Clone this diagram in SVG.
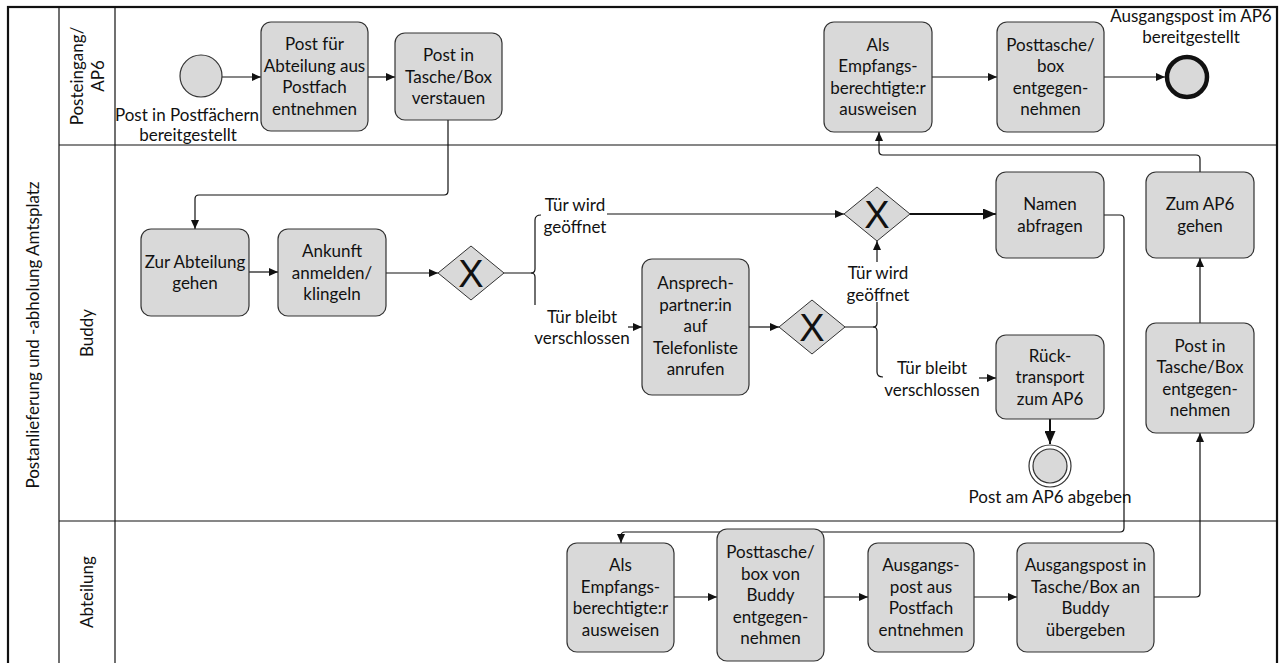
<svg xmlns="http://www.w3.org/2000/svg" width="1286" height="663" viewBox="0 0 1286 663">
<style>
text{font-family:Lato,"Liberation Sans",sans-serif;font-size:17px;fill:#111;text-anchor:middle}
.task{fill:#d9d9d9;stroke:#333;stroke-width:1.2}
.gw{fill:#d9d9d9;stroke:#333;stroke-width:1}
.x{font-size:38px;font-family:"Liberation Sans Narrow","Liberation Sans",sans-serif}
.c{fill:none;stroke:#111;stroke-width:1.2}
.ct{fill:none;stroke:#111;stroke-width:2}
.frame{fill:none;stroke:#111}
</style>
<defs>
<marker id="a" markerWidth="9" markerHeight="8" refX="9" refY="4" orient="auto" markerUnits="userSpaceOnUse"><path d="M0,0 L9,4 L0,8 Z" fill="#111"/></marker>
<marker id="ab" markerWidth="13" markerHeight="11" refX="13" refY="5.5" orient="auto" markerUnits="userSpaceOnUse"><path d="M0,0 L13,5.5 L0,11 Z" fill="#111"/></marker>
</defs>
<rect width="1286" height="663" fill="#fff"/>
<g id="pool">
<rect class="frame" x="8" y="7" width="1269" height="662" stroke-width="2.2"/>
<line class="frame" x1="59" y1="7" x2="59" y2="663" stroke-width="1.2"/>
<line class="frame" x1="115" y1="7" x2="115" y2="663" stroke-width="1.2"/>
<line class="frame" x1="59" y1="145" x2="1277" y2="145" stroke-width="1.2"/>
<line class="frame" x1="59" y1="521" x2="1277" y2="521" stroke-width="1.2"/>
<text transform="translate(39,335) rotate(-90)">Postanlieferung und -abholung Amtsplatz</text>
</g>
<g id="lane-posteingang"><text transform="translate(87,76) rotate(-90)"><tspan x="0" y="-4">Posteingang/</tspan><tspan x="0" y="17">AP6</tspan></text></g>
<g id="lane-buddy"><text transform="translate(93,333) rotate(-90)">Buddy</text></g>
<g id="lane-abteilung"><text transform="translate(93,592) rotate(-90)">Abteilung</text></g>

<g id="connectors">
<path class="c" d="M222,77 L261,77" marker-end="url(#a)"/>
<path class="c" d="M368,77 L395,77" marker-end="url(#a)"/>
<path class="c" d="M448,120 L448,191 Q448,195 444,195 L199,195 Q195,195 195,199 L195,229" marker-end="url(#a)"/>
<path class="c" d="M249,272 L278,272" marker-end="url(#a)"/>
<path class="c" d="M386,273 L438,273" marker-end="url(#a)"/>
<path class="c" d="M504,273 L531,273 Q535,273 535,269 L535,220 Q535,215 541,215"/>
<path class="c" d="M531,273 Q535,273 535,277 L535,305"/>
<path class="c" d="M607,214 L844,214" marker-end="url(#a)"/>
<path class="c" d="M628,327 L642,327" marker-end="url(#a)"/>
<path class="c" d="M749,327 L779,327" marker-end="url(#a)"/>
<path class="c" d="M845,327 L873,327 Q877,327 877,323 L877,302"/>
<path class="c" d="M877,262 L877,241" marker-end="url(#a)"/>
<path class="c" d="M873,327 Q877,327 877,331 L877,372 Q877,377 883,377"/>
<path class="c" d="M979,378 L996,378" marker-end="url(#a)"/>
<path class="ct" d="M910,214 L996,214" marker-end="url(#ab)"/>
<path class="ct" d="M1050,419 L1050,444" marker-end="url(#ab)"/>
<path class="c" d="M1104,215 L1120,215 Q1124,215 1124,219 L1124,528 Q1124,532 1120,532 L625,532 Q621,532 621,536 L621,543" marker-end="url(#a)"/>
<path class="c" d="M1200,172 L1200,159 Q1200,155 1196,155 L883,155 Q879,155 879,151 L879,132" marker-end="url(#a)"/>
<path class="c" d="M1200,323 L1200,258" marker-end="url(#a)"/>
<path class="c" d="M1154,597 L1196,597 Q1200,597 1200,593 L1200,433" marker-end="url(#a)"/>
<path class="c" d="M674,597 L717,597" marker-end="url(#a)"/>
<path class="c" d="M824,597 L868,597" marker-end="url(#a)"/>
<path class="c" d="M974,597 L1017,597" marker-end="url(#a)"/>
<path class="c" d="M932,77 L997,77" marker-end="url(#a)"/>
<path class="c" d="M1104,77 L1165,77" marker-end="url(#a)"/>
<text x="575" y="211">Tür wird</text><text x="575" y="233">geöffnet</text>
<text x="582" y="323">Tür bleibt</text><text x="582" y="344">verschlossen</text>
<text x="878" y="279">Tür wird</text><text x="878" y="301">geöffnet</text>
<text x="932" y="374">Tür bleibt</text><text x="932" y="396">verschlossen</text>
</g>

<g id="start">
<circle cx="201" cy="76" r="21" fill="#d9d9d9" stroke="#333" stroke-width="1.2"/>
<text x="187" y="121">Post in Postfächern</text><text x="188" y="141">bereitgestellt</text>
</g>
<g id="t-entnehmen"><rect class="task" x="261" y="22" width="107" height="109" rx="10"/>
<text x="314.5" y="50">Post für</text><text x="314.5" y="71.5">Abteilung aus</text><text x="314.5" y="93">Postfach</text><text x="314.5" y="114.5">entnehmen</text></g>
<g id="t-verstauen"><rect class="task" x="395" y="33" width="107" height="87" rx="10"/>
<text x="448.5" y="61">Post in</text><text x="448.5" y="82.5">Tasche/Box</text><text x="448.5" y="104">verstauen</text></g>
<g id="t-ausweisen-ap6"><rect class="task" x="824" y="22" width="108" height="110" rx="10"/>
<text x="878" y="50.5">Als</text><text x="878" y="72">Empfangs-</text><text x="878" y="93.5">berechtigte:r</text><text x="878" y="115">ausweisen</text></g>
<g id="t-entgegen-ap6"><rect class="task" x="997" y="22" width="107" height="110" rx="10"/>
<text x="1050.5" y="50.5">Posttasche/</text><text x="1050.5" y="72">box</text><text x="1050.5" y="93.5">entgegen-</text><text x="1050.5" y="115">nehmen</text></g>
<g id="end-ap6">
<circle cx="1187" cy="77" r="20" fill="#d9d9d9" stroke="#111" stroke-width="4.5"/>
<text x="1191" y="22">Ausgangspost im AP6</text><text x="1191" y="43">bereitgestellt</text>
</g>

<g id="t-zur-abteilung"><rect class="task" x="141" y="229" width="108" height="87" rx="10"/>
<text x="195" y="267.5">Zur Abteilung</text><text x="195" y="289">gehen</text></g>
<g id="t-ankunft"><rect class="task" x="278" y="229" width="108" height="87" rx="10"/>
<text x="332" y="257">Ankunft</text><text x="332" y="278.5">anmelden/</text><text x="332" y="300">klingeln</text></g>
<g id="gw1"><path class="gw" d="M438,273 L471,246 L504,273 L471,300 Z"/><text class="x" x="471" y="287">X</text></g>
<g id="t-ansprech"><rect class="task" x="642" y="259" width="107" height="136" rx="10"/>
<text x="695.5" y="289">Ansprech-</text><text x="695.5" y="310.5">partner:in</text><text x="695.5" y="332">auf</text><text x="695.5" y="353.5">Telefonliste</text><text x="695.5" y="375">anrufen</text></g>
<g id="gw3"><path class="gw" d="M779,327 L812,300 L845,327 L812,354 Z"/><text class="x" x="812" y="341">X</text></g>
<g id="gw2"><path class="gw" d="M844,214 L877,187 L910,214 L877,241 Z"/><text class="x" x="877" y="228">X</text></g>
<g id="t-namen"><rect class="task" x="996" y="172" width="108" height="86" rx="10"/>
<text x="1050" y="210">Namen</text><text x="1050" y="231.5">abfragen</text></g>
<g id="t-zum-ap6"><rect class="task" x="1146" y="172" width="108" height="86" rx="10"/>
<text x="1200" y="210">Zum AP6</text><text x="1200" y="231.5">gehen</text></g>
<g id="t-rueck"><rect class="task" x="996" y="335" width="108" height="84" rx="10"/>
<text x="1050" y="361.5">Rück-</text><text x="1050" y="383">transport</text><text x="1050" y="404.5">zum AP6</text></g>
<g id="end-rueck">
<circle cx="1050" cy="466" r="21" fill="#fff" stroke="#333" stroke-width="1.2"/>
<circle cx="1050" cy="466" r="17" fill="#d9d9d9" stroke="#333" stroke-width="1.2"/>
<text x="1050" y="503">Post am AP6 abgeben</text>
</g>
<g id="t-post-entgegen"><rect class="task" x="1146" y="323" width="108" height="110" rx="10"/>
<text x="1200" y="351.5">Post in</text><text x="1200" y="373">Tasche/Box</text><text x="1200" y="394.5">entgegen-</text><text x="1200" y="416">nehmen</text></g>

<g id="t-ausweisen-abt"><rect class="task" x="567" y="543" width="107" height="109" rx="10"/>
<text x="620.5" y="571">Als</text><text x="620.5" y="592.5">Empfangs-</text><text x="620.5" y="614">berechtigte:r</text><text x="620.5" y="635.5">ausweisen</text></g>
<g id="t-posttasche-abt"><rect class="task" x="717" y="529" width="107" height="132" rx="10"/>
<text x="770.5" y="558">Posttasche/</text><text x="770.5" y="579.5">box von</text><text x="770.5" y="601">Buddy</text><text x="770.5" y="622.5">entgegen-</text><text x="770.5" y="644">nehmen</text></g>
<g id="t-ausgangspost-abt"><rect class="task" x="868" y="543" width="106" height="109" rx="10"/>
<text x="921" y="571">Ausgangs-</text><text x="921" y="592.5">post aus</text><text x="921" y="614">Postfach</text><text x="921" y="635.5">entnehmen</text></g>
<g id="t-uebergeben"><rect class="task" x="1017" y="543" width="137" height="109" rx="10"/>
<text x="1085.5" y="571">Ausgangspost in</text><text x="1085.5" y="592.5">Tasche/Box an</text><text x="1085.5" y="614">Buddy</text><text x="1085.5" y="635.5">übergeben</text></g>
</svg>
